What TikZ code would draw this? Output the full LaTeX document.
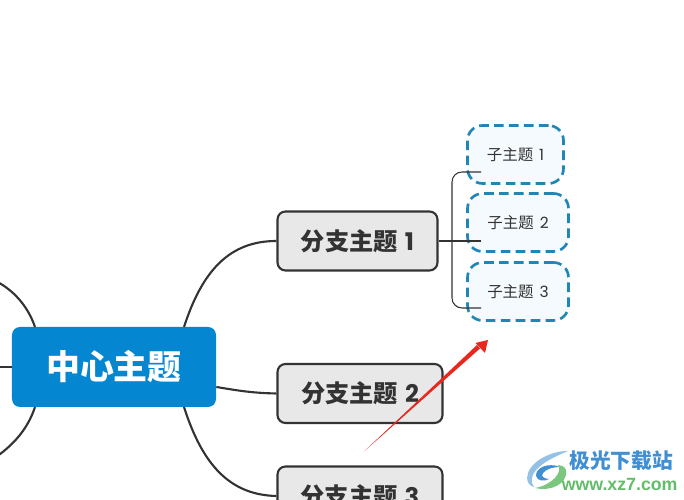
\documentclass[tikz,border=0pt]{standalone}
\usepackage{fontspec}
\setmainfont{Liberation Sans}
\newfontfamily\cjk{Noto Sans CJK SC}
\newfontfamily\latinnum{Poppins}
\usetikzlibrary{calc}
\usetikzlibrary{positioning}
\definecolor{topicblue}{HTML}{0486D1}
\definecolor{branchgray}{HTML}{E8E8E8}
\definecolor{darkline}{HTML}{333333}
\definecolor{subblue}{HTML}{1F86B5}
\definecolor{subfill}{HTML}{F5FAFE}
\definecolor{arrowred}{HTML}{E8281E}
\definecolor{markblue}{HTML}{3F8FD2}
\definecolor{markgreen}{HTML}{62BD6A}
\begin{document}
\begin{tikzpicture}[
        central/.style={fill=topicblue, text=white, rounded corners=0.16cm, minimum width=4.08cm, minimum height=1.6cm, font=\cjk\bfseries\fontsize{19.3}{21}\selectfont},
        branch/.style={draw=darkline, fill=branchgray, text=darkline, line width=1.2pt, rounded corners=0.16cm, minimum height=1.18cm, font=\cjk\bfseries\fontsize{13.8}{15}\selectfont},
        subtopic/.style={draw=subblue, fill=subfill, text=darkline, line width=1.5pt, dash pattern=on 5.5pt off 3pt, rounded corners=0.3cm, minimum height=1.16cm, font=\cjk\fontsize{8.8}{10}\selectfont},
        link/.style={draw=darkline, line width=1.2pt},
        thinlink/.style={draw=darkline, line width=0.6pt}]
        
        \useasboundingbox (0,0) rectangle (13.68,10);
        \clip (0,0) rectangle (13.68,10);
        
        \node[central] (C) at (2.28,2.66) {中心主题};
        \node[branch, minimum width=3.2cm] (B1) at (7.15,5.18) {分支主题\hspace{0.14cm}{\latinnum 1}};
        \node[branch, minimum width=3.3cm] (B2) at (7.2,2.13) {分支主题\hspace{0.14cm}{\latinnum 2}};
        \node[branch, minimum width=3.3cm] (B3) at (7.2,0.08) {分支主题\hspace{0.14cm}{\latinnum 3}};
        \node[subtopic, minimum width=1.92cm] (S1) at (10.31,6.91) {子主题\hspace{0.12cm}{\latinnum 1}};
        \node[subtopic, minimum width=2.02cm] (S2) at (10.36,5.55) {子主题\hspace{0.12cm}{\latinnum 2}};
        \node[subtopic, minimum width=2.02cm] (S3) at (10.36,4.17) {子主题\hspace{0.12cm}{\latinnum 3}};
        
        % ends of the lines
        \coordinate (L1) at (-0.05,4.36);
        \coordinate (L2) at (-0.05,2.66);
        \coordinate (L3) at (-0.05,0.88);
        \coordinate (J) at (9.04,5.18);
        \coordinate (E1) at (9.62,6.56);
        \coordinate (E2) at (9.62,5.18);
        \coordinate (E3) at (9.62,3.84);
        
        \draw[link] (3.68,3.46) .. controls (4.05,4.6) and (4.6,5.18) .. (B1.west);
        \draw[link] (C.east |- 0,2.26) .. controls (4.7,2.2) and (5,2.14) .. (B2.west);
        \draw[link] (3.68,1.86) .. controls (4.05,0.7) and (4.6,0.1) .. (B3.west);
        \draw[link] (0.7,3.46) .. controls (0.55,3.9) and (0.25,4.2) .. (L1);
        \draw[link] (C.west) -- (L2);
        \draw[link] (0.7,1.86) .. controls (0.55,1.4) and (0.25,1.1) .. (L3);
        
        \draw[thinlink] (B1.east) -- (J) -- (E2);
        \draw[thinlink] (E1) -- (9.24,6.56) to[out=180,in=90] (9.04,6.36) -- (9.04,4.04) to[out=-90,in=180] (9.24,3.84) -- (E3);
        
        % red arrow
        \fill[arrowred] (7.28,0.97) -- (9.54,3.1) -- (9.6,3.03) -- cycle;
        \fill[arrowred] (9.76,3.2) -- (9.51,3.14) -- (9.7,2.94) -- cycle;
        
        % mark at the corner
        \begin{scope}[x=0.02cm,y=-0.02cm,shift={(0,-500)}]
            \fill[markblue!55] (568,451) .. controls (548,451) and (527,464) .. (527,478) .. controls (527,483) and (530,486) .. (534,487) .. controls (530,482) and (531,476) .. (536,470) .. controls (543,462) and (556,456) .. (568,451) -- cycle;
            \fill[markblue] (560,467) .. controls (548,462) and (535,468) .. (536,476) .. controls (537,481) and (544,482) .. (549,479) .. controls (544,479) and (540,476) .. (543,473) .. controls (546,469) and (553,467) .. (560,467) -- cycle;
            \fill[markgreen!85] (535,488) .. controls (550,492) and (568,484) .. (566,470) .. controls (564,466) and (561,465) .. (558,465) .. controls (563,472) and (552,485) .. (535,488) -- cycle;
            \node[text=markblue, font=\cjk\bfseries\fontsize{11.8}{13}\selectfont, inner sep=0pt] (M1) at (621,461) {极光下载站};
            \node[text=markgreen, font=\bfseries\fontsize{10.1}{12}\selectfont, inner sep=0pt] (M2) at (619.5,484) {www.xz7.com};
        \end{scope}
        
    \end{tikzpicture}
\end{document}
